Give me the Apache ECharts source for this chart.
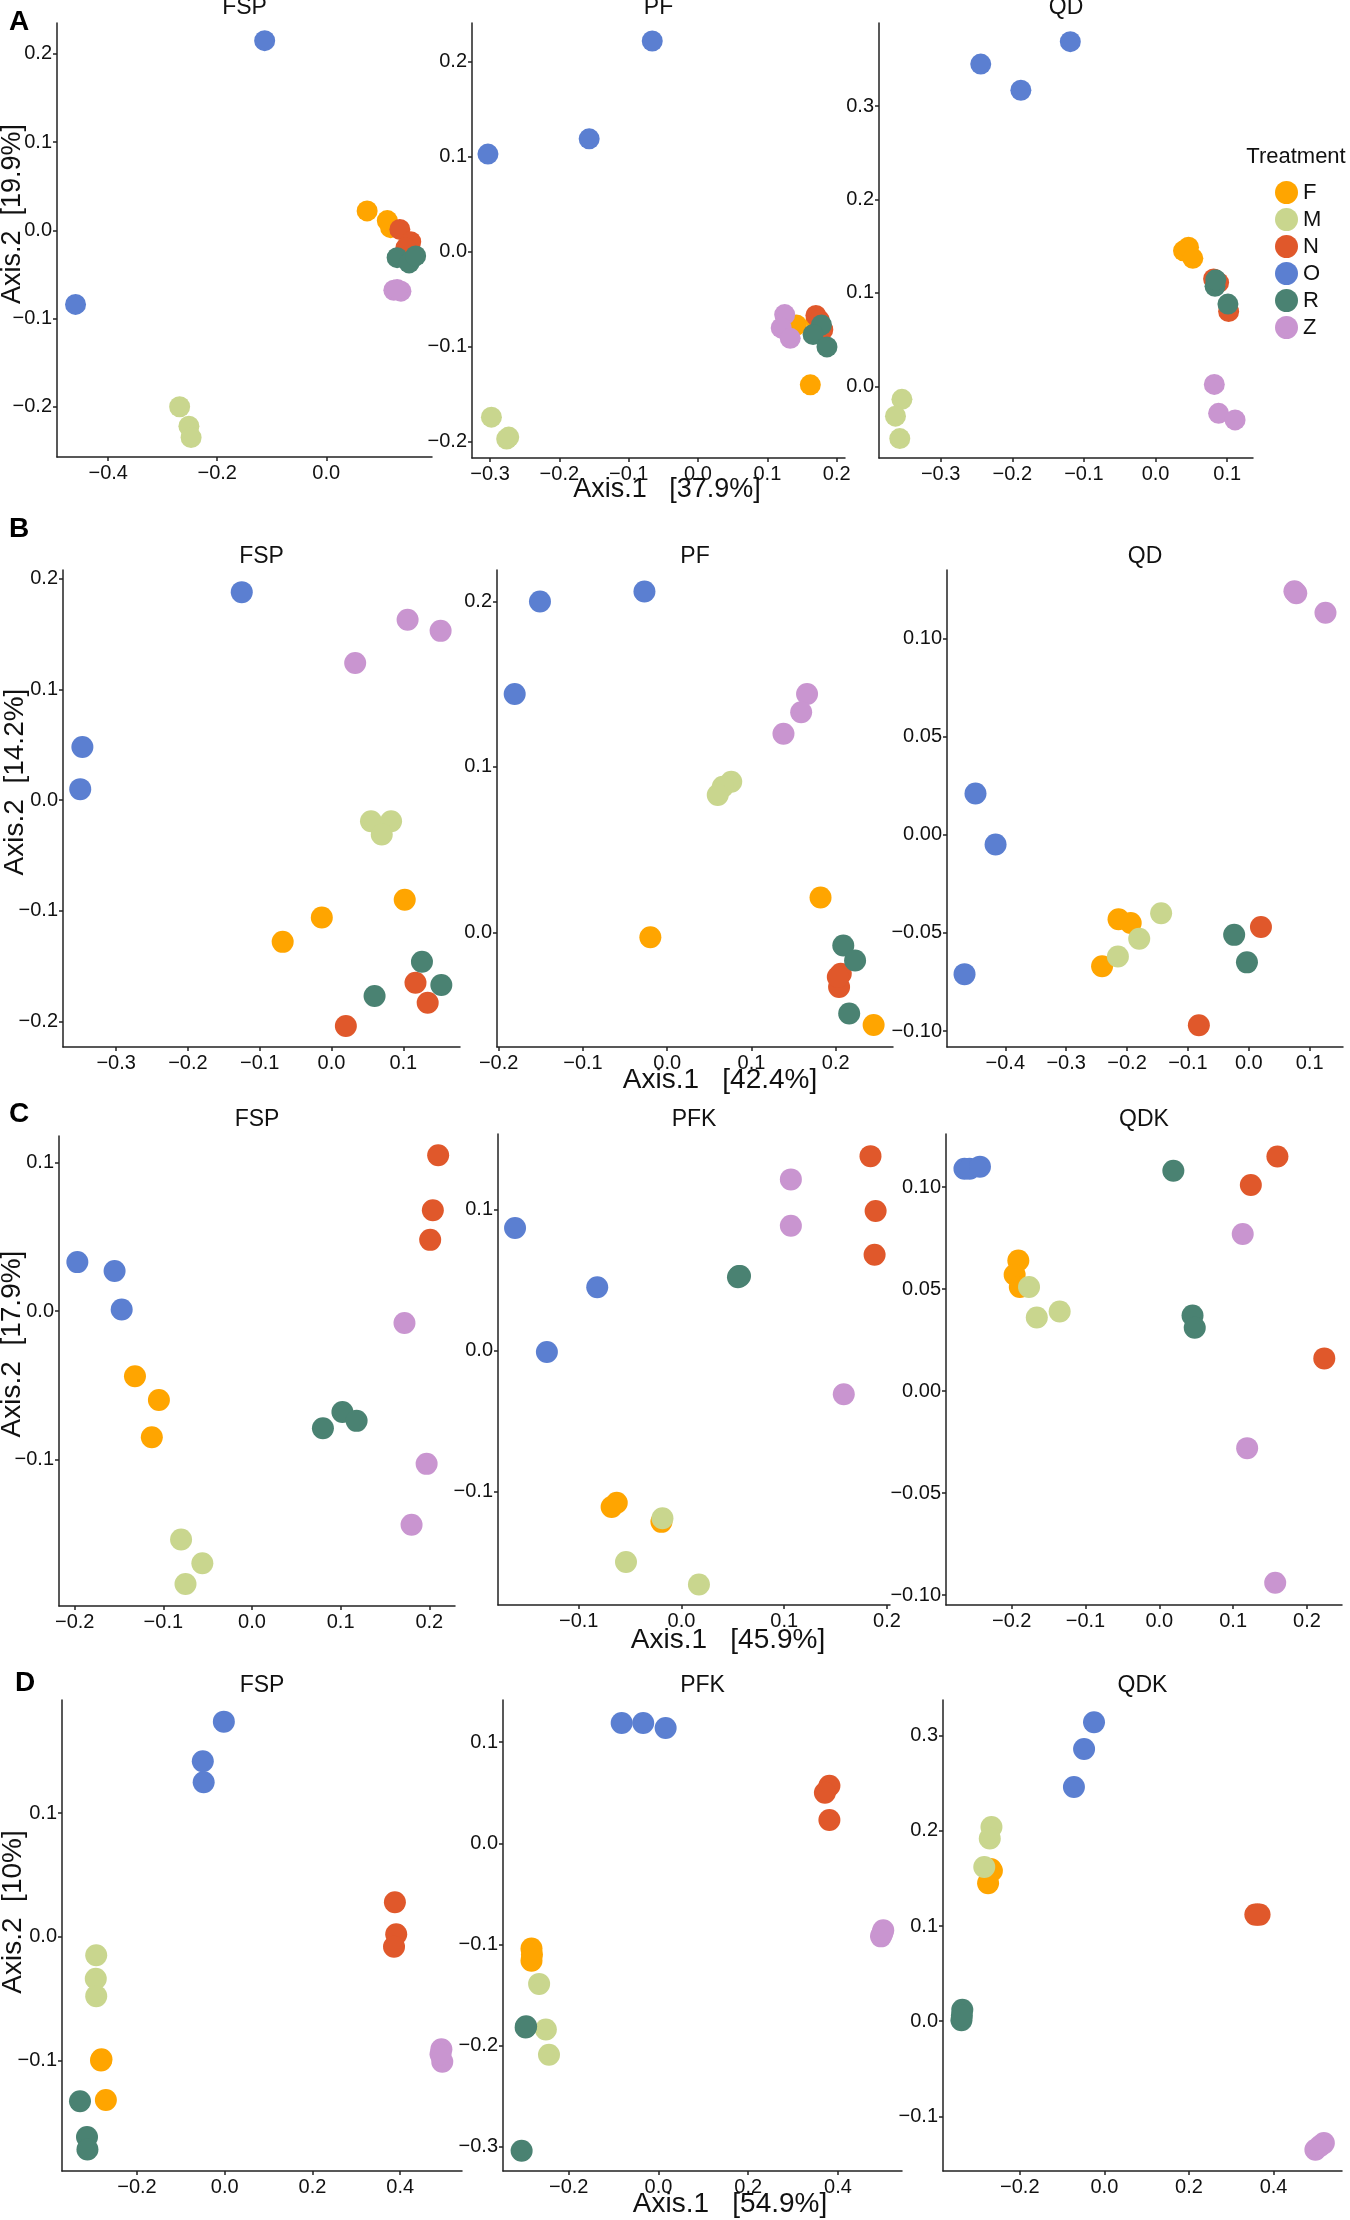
<!DOCTYPE html>
<html>
<head>
<meta charset="utf-8">
<title>PCoA panels</title>
<script src="https://cdn.jsdelivr.net/npm/echarts@6/dist/echarts.min.js"></script>
<style>
    html, body { margin: 0; padding: 0; background: #fff; }
    #chart { width: 1350px; height: 2220px; }
</style>
</head>
<body>
<div id="chart"></div>
<script>
// 处理组
var treatments = ['F', 'M', 'N', 'O', 'R', 'Z'];
var colors = ['#FFA500', '#C9D68E', '#E0582B', '#5B7FD1', '#4A8272', '#C995D0'];

// 每个面板的点: [组, Axis.1, Axis.2]
var aFSP = [
    ['F', 0.075, 0.022], ['F', 0.112, 0.011], ['F', 0.118, 0.003],
    ['M', -0.269, -0.200], ['M', -0.252, -0.222], ['M', -0.248, -0.235],
    ['N', 0.135, 0.001], ['N', 0.155, -0.013], ['N', 0.146, -0.020],
    ['O', -0.113, 0.215], ['O', -0.460, -0.084],
    ['R', 0.130, -0.031], ['R', 0.152, -0.037], ['R', 0.164, -0.029],
    ['Z', 0.124, -0.068], ['Z', 0.137, -0.069], ['Z', 0.130, -0.067]
];
var aPF = [
    ['F', 0.142, -0.077], ['F', 0.162, -0.140], ['F', 0.170, -0.072],
    ['M', -0.298, -0.174], ['M', -0.273, -0.195], ['M', -0.276, -0.197],
    ['N', 0.170, -0.067], ['N', 0.180, -0.082], ['N', 0.175, -0.072],
    ['O', -0.066, 0.222], ['O', -0.157, 0.119], ['O', -0.303, 0.103],
    ['R', 0.178, -0.077], ['R', 0.166, -0.087], ['R', 0.186, -0.100],
    ['Z', 0.125, -0.066], ['Z', 0.120, -0.080], ['Z', 0.133, -0.091]
];
var aQD = [
    ['F', 0.039, 0.145], ['F', 0.046, 0.149], ['F', 0.052, 0.137],
    ['M', -0.354, -0.014], ['M', -0.363, -0.032], ['M', -0.357, -0.056],
    ['N', 0.081, 0.115], ['N', 0.102, 0.080], ['N', 0.088, 0.111],
    ['O', -0.119, 0.369], ['O', -0.244, 0.345], ['O', -0.188, 0.317],
    ['R', 0.083, 0.107], ['R', 0.084, 0.114], ['R', 0.101, 0.088],
    ['Z', 0.082, 0.002], ['Z', 0.088, -0.029], ['Z', 0.111, -0.036]
];
var bFSP = [
    ['F', 0.102, -0.090], ['F', -0.0135, -0.106], ['F', -0.068, -0.128],
    ['M', 0.055, -0.019], ['M', 0.083, -0.019], ['M', 0.070, -0.031],
    ['N', 0.117, -0.165], ['N', 0.134, -0.183], ['N', 0.020, -0.204],
    ['O', -0.125, 0.188], ['O', -0.347, 0.048], ['O', -0.350, 0.010],
    ['R', 0.126, -0.146], ['R', 0.153, -0.167], ['R', 0.060, -0.177],
    ['Z', 0.106, 0.163], ['Z', 0.152, 0.153], ['Z', 0.033, 0.124]
];
var bPF = [
    ['F', 0.182, 0.021], ['F', -0.020, -0.003], ['F', 0.245, -0.056],
    ['M', 0.076, 0.091], ['M', 0.066, 0.088], ['M', 0.060, 0.083],
    ['N', 0.206, -0.025], ['N', 0.204, -0.033], ['N', 0.2025, -0.027],
    ['O', -0.027, 0.206], ['O', -0.151, 0.200], ['O', -0.181, 0.144],
    ['R', 0.209, -0.008], ['R', 0.223, -0.017], ['R', 0.216, -0.049],
    ['Z', 0.166, 0.144], ['Z', 0.159, 0.133], ['Z', 0.138, 0.120]
];
var bQD = [
    ['F', -0.214, -0.043], ['F', -0.194, -0.045], ['F', -0.241, -0.067],
    ['M', -0.144, -0.040], ['M', -0.180, -0.053], ['M', -0.215, -0.062],
    ['N', 0.020, -0.047], ['N', -0.082, -0.097],
    ['O', -0.449, 0.021], ['O', -0.416, -0.005], ['O', -0.467, -0.071],
    ['R', -0.024, -0.051], ['R', -0.003, -0.065],
    ['Z', 0.078, 0.123], ['Z', 0.075, 0.124], ['Z', 0.126, 0.113]
];
var cFSP = [
    ['F', -0.132, -0.044], ['F', -0.105, -0.060], ['F', -0.113, -0.085],
    ['M', -0.080, -0.154], ['M', -0.056, -0.170], ['M', -0.075, -0.184],
    ['N', 0.210, 0.105], ['N', 0.204, 0.068], ['N', 0.201, 0.048],
    ['O', -0.197, 0.033], ['O', -0.155, 0.027], ['O', -0.147, 0.001],
    ['R', 0.102, -0.068], ['R', 0.118, -0.074], ['R', 0.080, -0.079],
    ['Z', 0.172, -0.008], ['Z', 0.197, -0.103], ['Z', 0.180, -0.144]
];
var cPFK = [
    ['F', -0.063, -0.108], ['F', -0.068, -0.111], ['F', -0.0195, -0.1215],
    ['M', -0.0185, -0.119], ['M', -0.054, -0.150], ['M', 0.017, -0.166],
    ['N', 0.184, 0.138], ['N', 0.189, 0.099], ['N', 0.188, 0.068],
    ['O', -0.162, 0.087], ['O', -0.082, 0.045], ['O', -0.131, -0.001],
    ['R', 0.056, 0.053], ['R', 0.057, 0.053], ['R', 0.055, 0.052],
    ['Z', 0.1065, 0.1215], ['Z', 0.1065, 0.0886], ['Z', 0.158, -0.031]
];
var cQDK = [
    ['F', -0.191, 0.064], ['F', -0.196, 0.057], ['F', -0.189, 0.051],
    ['M', -0.1765, 0.051], ['M', -0.166, 0.036], ['M', -0.135, 0.039],
    ['N', 0.160, 0.115], ['N', 0.124, 0.101], ['N', 0.2235, 0.016],
    ['O', -0.264, 0.109], ['O', -0.257, 0.109], ['O', -0.243, 0.110],
    ['R', 0.019, 0.108], ['R', 0.045, 0.037], ['R', 0.048, 0.031],
    ['Z', 0.113, 0.077], ['Z', 0.119, -0.028], ['Z', 0.157, -0.094]
];
var dFSP = [
    ['F', -0.282, -0.100], ['F', -0.271, -0.132], ['F', -0.281, -0.099],
    ['M', -0.293, -0.015], ['M', -0.294, -0.034], ['M', -0.293, -0.048],
    ['N', 0.388, 0.028], ['N', 0.391, 0.002], ['N', 0.386, -0.008],
    ['O', -0.002, 0.174], ['O', -0.050, 0.142], ['O', -0.048, 0.125],
    ['R', -0.330, -0.133], ['R', -0.314, -0.162], ['R', -0.313, -0.172],
    ['Z', 0.494, -0.091], ['Z', 0.496, -0.101], ['Z', 0.492, -0.095]
];
var dPFK = [
    ['F', -0.283, -0.104], ['F', -0.283, -0.116], ['F', -0.282, -0.110],
    ['M', -0.266, -0.139], ['M', -0.251, -0.184], ['M', -0.244, -0.209],
    ['N', 0.381, 0.057], ['N', 0.371, 0.050], ['N', 0.381, 0.023],
    ['O', -0.082, 0.119], ['O', -0.034, 0.119], ['O', 0.016, 0.114],
    ['R', -0.296, -0.182], ['R', -0.305, -0.304], ['R', -0.295, -0.181],
    ['Z', 0.501, -0.086], ['Z', 0.496, -0.092], ['Z', 0.499, -0.089]
];
var dQDK = [
    ['F', -0.269, 0.160], ['F', -0.275, 0.145], ['F', -0.266, 0.158],
    ['M', -0.267, 0.204], ['M', -0.271, 0.192], ['M', -0.284, 0.162],
    ['N', 0.362, 0.112], ['N', 0.357, 0.112], ['N', 0.367, 0.112],
    ['O', -0.0245, 0.314], ['O', -0.048, 0.286], ['O', -0.072, 0.246],
    ['R', -0.336, 0.012], ['R', -0.338, 0.001], ['R', -0.337, 0.006],
    ['Z', 0.519, -0.128], ['Z', 0.499, -0.135], ['Z', 0.510, -0.131]
];

// 刻度
var ticksA_FSPx = [-0.4, -0.2, 0.0];
var ticksA_PFx = [-0.3, -0.2, -0.1, 0.0, 0.1, 0.2];
var ticksA_QDx = [-0.3, -0.2, -0.1, 0.0, 0.1];
var ticksA_y = [-0.2, -0.1, 0.0, 0.1, 0.2];
var ticksA_QDy = [0.0, 0.1, 0.2, 0.3];
var ticksB_FSPx = [-0.3, -0.2, -0.1, 0.0, 0.1];
var ticksB_FSPy = [-0.2, -0.1, 0.0, 0.1, 0.2];
var ticksB_PFx = [-0.2, -0.1, 0.0, 0.1, 0.2];
var ticksB_PFy = [0.0, 0.1, 0.2];
var ticksB_QDx = [-0.4, -0.3, -0.2, -0.1, 0.0, 0.1];
var ticksB_QDy = [-0.10, -0.05, 0.00, 0.05, 0.10];
var ticksC_FSPx = [-0.2, -0.1, 0.0, 0.1, 0.2];
var ticksC_FSPy = [-0.1, 0.0, 0.1];
var ticksC_PFKx = [-0.1, 0.0, 0.1, 0.2];
var ticksC_PFKy = [-0.1, 0.0, 0.1];
var ticksC_QDKx = [-0.2, -0.1, 0.0, 0.1, 0.2];
var ticksC_QDKy = [-0.10, -0.05, 0.00, 0.05, 0.10];
var ticksD_x = [-0.2, 0.0, 0.2, 0.4];
var ticksD_FSPy = [-0.1, 0.0, 0.1];
var ticksD_PFKy = [-0.3, -0.2, -0.1, 0.0, 0.1];
var ticksD_QDKy = [-0.1, 0.0, 0.1, 0.2, 0.3];

// 轴标题
var axis1Labels = ['Axis.1   [37.9%]', 'Axis.1   [42.4%]', 'Axis.1   [45.9%]', 'Axis.1   [54.9%]'];
var axis2Labels = ['Axis.2  [19.9%]', 'Axis.2  [14.2%]', 'Axis.2  [17.9%]', 'Axis.2  [10%]'];
var rowLetters = ['A', 'B', 'C', 'D'];

// 面板位置 (像素) 与坐标范围
var panels = [
    { title: 'FSP', data: aFSP, xt: ticksA_FSPx, yt: ticksA_y, yd: 1, box: [57, 23, 375, 434], xr: [-0.494, 0.194], yr: [-0.257, 0.235] },
    { title: 'PF', data: aPF, xt: ticksA_PFx, yt: ticksA_y, yd: 1, box: [472, 23, 373, 435], xr: [-0.326, 0.212], yr: [-0.217, 0.241] },
    { title: 'QD', data: aQD, xt: ticksA_QDx, yt: ticksA_QDy, yd: 1, box: [879, 23, 374, 435], xr: [-0.386, 0.136], yr: [-0.0768, 0.389] },
    { title: 'FSP', data: bFSP, xt: ticksB_FSPx, yt: ticksB_FSPy, yd: 1, box: [63, 570, 397, 477], xr: [-0.374, 0.179], yr: [-0.223, 0.208] },
    { title: 'PF', data: bPF, xt: ticksB_PFx, yt: ticksB_PFy, yd: 1, box: [497, 570, 396, 477], xr: [-0.202, 0.268], yr: [-0.0693, 0.219] },
    { title: 'QD', data: bQD, xt: ticksB_QDx, yt: ticksB_QDy, yd: 2, box: [947, 570, 396, 477], xr: [-0.4958, 0.1548], yr: [-0.1081, 0.1348] },
    { title: 'FSP', data: cFSP, xt: ticksC_FSPx, yt: ticksC_FSPy, yd: 1, box: [59, 1136, 396, 470], xr: [-0.2177, 0.229], yr: [-0.1988, 0.118] },
    { title: 'PFK', data: cPFK, xt: ticksC_PFKx, yt: ticksC_PFKy, yd: 1, box: [498, 1134, 392, 471], xr: [-0.1786, 0.203], yr: [-0.1805, 0.1537] },
    { title: 'QDK', data: cQDK, xt: ticksC_QDKx, yt: ticksC_QDKy, yd: 2, box: [946, 1134, 396, 471], xr: [-0.289, 0.2475], yr: [-0.1049, 0.126] },
    { title: 'FSP', data: dFSP, xt: ticksD_x, yt: ticksD_FSPy, yd: 1, box: [62, 1700, 400, 471], xr: [-0.371, 0.541], yr: [-0.1894, 0.1915] },
    { title: 'PFK', data: dPFK, xt: ticksD_x, yt: ticksD_PFKy, yd: 1, box: [503, 1700, 399, 471], xr: [-0.3465, 0.5428], yr: [-0.324, 0.1417] },
    { title: 'QDK', data: dQDK, xt: ticksD_x, yt: ticksD_QDKy, yd: 1, box: [943, 1700, 399, 471], xr: [-0.3816, 0.5619], yr: [-0.1573, 0.3374] }
];

// 每行文字位置
var titleY = [8, 557, 1120, 1686];
var letterPos = [[19, 22], [19, 529], [19, 1114], [25, 1683]];
var axis1Pos = [[667, 490], [720, 1080], [728, 1640], [730, 2204]];
var axis2Pos = [[13, 214], [15, 782], [12, 1344], [13, 1912]];
var axisFont = [27, 28, 28, 28];

var FONT = '"Liberation Sans", Arial, Helvetica, sans-serif';

function fmt(dec) {
    return function(v) {
        var s = Math.abs(v).toFixed(dec);
        return (v < -1e-9 ? '\u2212' : '') + s;
    };
}

var grids = [], xAxes = [], yAxes = [], series = [], graphics = [];
var axisLineStyle = { color: '#222', width: 1.5 };

panels.forEach(function(p, i) {
    grids.push({ left: p.box[0], top: p.box[1], width: p.box[2], height: p.box[3], containLabel: false });
    xAxes.push({
        type: 'value', gridIndex: i, min: p.xr[0], max: p.xr[1],
        axisLine: { show: true, onZero: false, lineStyle: axisLineStyle },
        axisTick: { show: true, length: 4, customValues: p.xt, lineStyle: axisLineStyle },
        axisLabel: { customValues: p.xt, formatter: fmt(1), fontSize: 20, color: '#111', fontFamily: FONT, margin: 6 },
        splitLine: { show: false }
    });
    yAxes.push({
        type: 'value', gridIndex: i, min: p.yr[0], max: p.yr[1],
        axisLine: { show: true, onZero: false, lineStyle: axisLineStyle },
        axisTick: { show: true, length: 4, customValues: p.yt, lineStyle: axisLineStyle },
        axisLabel: { customValues: p.yt, formatter: fmt(p.yd), fontSize: 20, color: '#111', fontFamily: FONT, margin: 5 },
        splitLine: { show: false }
    });
    treatments.forEach(function(t, k) {
        series.push({
            type: 'scatter',
            name: t,
            xAxisIndex: i,
            yAxisIndex: i,
            symbol: 'circle',
            symbolSize: i < 3 ? 21 : 22,
            clip: false,
            silent: true,
            itemStyle: { color: colors[k], opacity: 1 },
            data: p.data.filter(function(d) { return d[0] === t; }).map(function(d) { return [d[1], d[2]]; })
        });
    });
    // 面板标题
    var row = Math.floor(i / 3);
    graphics.push({
        type: 'text', x: p.box[0] + p.box[2] / 2, y: titleY[row], silent: true,
        style: { text: p.title, font: '23px ' + FONT, fill: '#111', align: 'center', verticalAlign: 'middle', textAlign: 'center', textVerticalAlign: 'middle' }
    });
});

rowLetters.forEach(function(l, r) {
    graphics.push({
        type: 'text', x: letterPos[r][0], y: letterPos[r][1], silent: true,
        style: { text: l, font: 'bold 28px ' + FONT, fill: '#000', align: 'center', verticalAlign: 'middle', textAlign: 'center', textVerticalAlign: 'middle' }
    });
    graphics.push({
        type: 'text', x: axis1Pos[r][0], y: axis1Pos[r][1], silent: true,
        style: { text: axis1Labels[r], font: axisFont[r] + 'px ' + FONT, fill: '#111', align: 'center', verticalAlign: 'middle', textAlign: 'center', textVerticalAlign: 'middle' }
    });
    graphics.push({
        type: 'text', x: axis2Pos[r][0], y: axis2Pos[r][1], rotation: Math.PI / 2, silent: true,
        style: { text: axis2Labels[r], font: axisFont[r] + 'px ' + FONT, fill: '#111', align: 'center', verticalAlign: 'middle', textAlign: 'center', textVerticalAlign: 'middle' }
    });
});

// 图例标题
graphics.push({
    type: 'text', x: 1296, y: 157, silent: true,
    style: { text: 'Treatment', font: '22px ' + FONT, fill: '#111', align: 'center', verticalAlign: 'middle', textAlign: 'center', textVerticalAlign: 'middle' }
});

var myChart = echarts.init(document.getElementById('chart'), null, { renderer: 'canvas', width: 1350, height: 2220 });

var option = {
    backgroundColor: '#fff',
    animation: false,
    grid: grids,
    xAxis: xAxes,
    yAxis: yAxes,
    legend: {
        data: treatments,
        orient: 'vertical',
        left: 1270,
        top: 176,
        itemWidth: 23,
        itemHeight: 23,
        itemGap: 4,
        icon: 'circle',
        selectedMode: false,
        textStyle: { fontSize: 22, color: '#111', fontFamily: FONT }
    },
    graphic: graphics,
    series: series
};

myChart.setOption(option);
</script>
</body>
</html>
